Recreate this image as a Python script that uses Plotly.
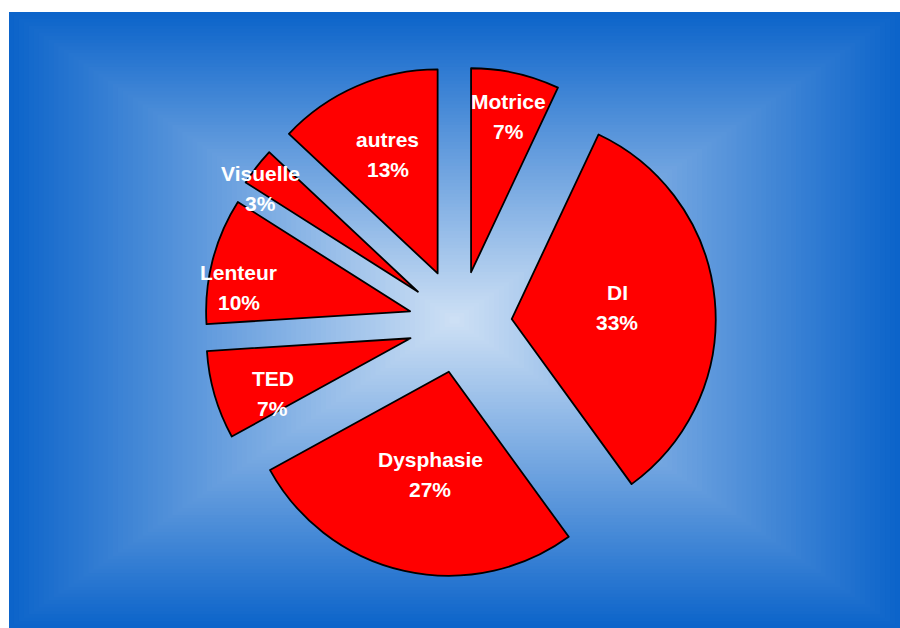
import math
import plotly.graph_objects as go

# ---- data ----
categories = ["Motrice", "DI", "Dysphasie", "TED", "Lenteur", "Visuelle", "autres"]
values = [7, 33, 27, 7, 10, 3, 13]

# ---- style / layout parameters ----
W, H = 900, 628
pulls = [0.26, 0.257, 0.24, 0.25, 0.25, 0.258, 0.27]
label_r = [0.785, 0.52, 0.51, 0.727, 0.847, 0.926, 0.63]     # fraction of radius from slice apex
label_dang = [-1.0, 0.6, 2.2, 5.5, 6.6, 4.5, -0.6]            # degrees offset from slice bisector
line_gap = 30.0
pie_cx_px, pie_cy_px = 459.5, 324.0
pie_r_px = 204.0

maxpull = max(pulls)
half = pie_r_px * (1 + maxpull)
dom_x = [(pie_cx_px - half) / W, (pie_cx_px + half) / W]
dom_y = [1 - (pie_cy_px + half) / H, 1 - (pie_cy_px - half) / H]

fig = go.Figure()
fig.add_trace(go.Pie(
    labels=categories,
    values=values,
    sort=False,
    direction="clockwise",
    rotation=0,
    pull=pulls,
    textinfo="none",
    hoverinfo="label+percent",
    marker=dict(colors=["#ff0000"] * len(values), line=dict(color="#000000", width=1.8)),
    domain=dict(x=dom_x, y=dom_y),
    showlegend=False,
))

# ---- background: rectangular gradient (light centre -> blue edges) ----
bg_x0, bg_x1, bg_y0, bg_y1 = 9, 900, 12, 628
edge = (12, 100, 202)
centre = (207, 225, 245)
N = 90
gx = (bg_x0 + bg_x1) / 2
gy = (bg_y0 + bg_y1) / 2
hw = (bg_x1 - bg_x0) / 2
hh = (bg_y1 - bg_y0) / 2
shapes = []
for k in range(N):
    t = k / N
    c = tuple(int(round(edge[i] + (centre[i] - edge[i]) * t)) for i in range(3))
    shapes.append(dict(
        type="rect", xref="paper", yref="paper", layer="below",
        x0=(gx - hw * (1 - t)) / W, x1=(gx + hw * (1 - t)) / W,
        y0=1 - (gy + hh * (1 - t)) / H, y1=1 - (gy - hh * (1 - t)) / H,
        fillcolor="rgb(%d,%d,%d)" % c, line=dict(width=0),
    ))

# ---- labels computed from slice geometry ----
total = sum(values)
annotations = []
font = dict(family="Liberation Sans, Arial, sans-serif", size=21, color="#ffffff", weight="bold")
cum = 0
for cat, v, p, fr, da in zip(categories, values, pulls, label_r, label_dang):
    mid = 90 - 360 * (cum + v / 2) / total
    cum += v
    th = math.radians(mid)
    ax = pie_cx_px + p * pie_r_px * math.cos(th)
    ay = pie_cy_px - p * pie_r_px * math.sin(th)
    th2 = math.radians(mid + da)
    lx = ax + fr * pie_r_px * math.cos(th2)
    ly = ay - fr * pie_r_px * math.sin(th2)
    pct = round(100 * v / total)
    for txt, dy in ((cat, -line_gap / 2), ("%d%%" % pct, line_gap / 2)):
        annotations.append(dict(
            x=lx / W, y=1 - (ly + dy) / H, xref="paper", yref="paper",
            text=txt, showarrow=False, xanchor="center", yanchor="middle",
            font=font,
        ))

fig.update_layout(
    width=W, height=H,
    margin=dict(l=0, r=0, t=0, b=0),
    paper_bgcolor="#ffffff",
    plot_bgcolor="#ffffff",
    shapes=shapes,
    annotations=annotations,
)

fig.write_html(
    "out.html",
    config={"displayModeBar": False},
    post_script="document.body.style.margin='0';document.documentElement.style.overflow='hidden';",
)
